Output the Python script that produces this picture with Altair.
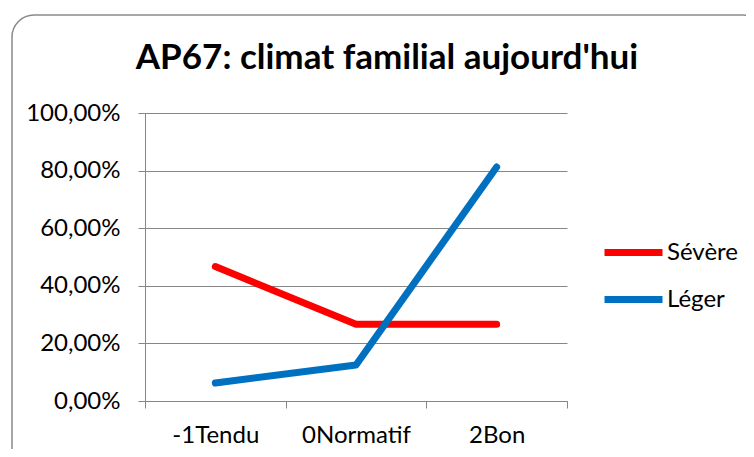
import altair as alt
import pandas as pd

categories = ["-1Tendu", "0Normatif", "2Bon"]
series_names = ["Sévère", "Léger"]
severe = [0.4667, 0.2667, 0.2667]
leger = [0.0625, 0.125, 0.8125]

rows = []
for s, vals in zip(series_names, [severe, leger]):
    for c, v in zip(categories, vals):
        rows.append({"cat": c, "serie": s, "val": v})
df = pd.DataFrame(rows)

FONT = "Lato"
GRAY = "#868686"

lines = alt.Chart(df).mark_line(strokeWidth=7, strokeCap="round", strokeJoin="round").encode(
    x=alt.X("cat:N", sort=categories, bandPosition=0.5, title=None,
            scale=alt.Scale(type="band", paddingInner=0, paddingOuter=0),
            axis=alt.Axis(tickBand="extent", grid=False, labelAngle=0, labelFontSize=24,
                          labelPadding=15, tickSize=7, domainColor=GRAY, tickColor=GRAY,
                          labelColor="#000000", labelFont=FONT)),
    y=alt.Y("val:Q", title=None,
            scale=alt.Scale(domain=[0, 1]),
            axis=alt.Axis(values=[0, 0.2, 0.4, 0.6, 0.8, 1.0],
                          labelExpr="replace(format(datum.value, '.2%'), '.', ',')",
                          labelFontSize=24, labelPadding=18, tickSize=7,
                          gridColor=GRAY, domainColor=GRAY, tickColor=GRAY,
                          labelColor="#000000", labelFont=FONT)),
    color=alt.Color("serie:N", sort=series_names,
                    scale=alt.Scale(domain=series_names, range=["#FF0000", "#0070C0"]),
                    legend=alt.Legend(title=None, orient="none", legendX=456, legendY=107,
                                      symbolType="stroke", symbolSize=3364, symbolStrokeWidth=7,
                                      labelFontSize=24, labelFont=FONT, labelColor="#000000",
                                      rowPadding=-10, labelOffset=1)),
)

border = alt.Chart(alt.Data(values=[{"a": 1}])).mark_rect(
    fill=None, stroke="#8a8a8a", strokeWidth=1.5, cornerRadius=22, clip=False
).encode(
    x=alt.value(-133), x2=alt.value(620),
    y=alt.value(-98), y2=alt.value(356),
)

chart = alt.layer(border, lines).properties(
    width=422, height=288,
    autosize=alt.AutoSizeParams(type="none"),
    padding={"left": 137, "top": 105, "right": 179, "bottom": 48},
    title=alt.TitleParams("AP67: climat familial aujourd'hui", fontSize=35, font=FONT,
                          fontWeight="bold", color="#000000", frame="group", anchor="middle",
                          baseline="alphabetic", offset=0, dy=90, dx=31),
).configure_view(stroke=None)

chart.save("out.html", embed_options={"renderer": "svg", "actions": False})
